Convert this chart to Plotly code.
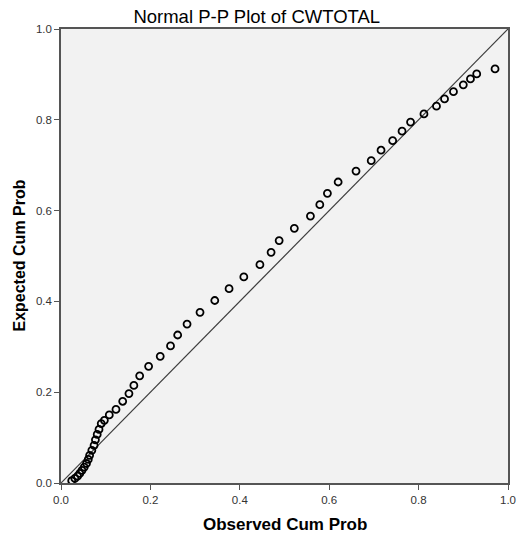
import plotly.graph_objects as go

observed = [0.024, 0.031, 0.037, 0.042, 0.047, 0.052, 0.057, 0.061, 0.064, 0.069,
            0.074, 0.077, 0.081, 0.085, 0.090, 0.097, 0.108, 0.123, 0.138, 0.152,
            0.163, 0.176, 0.196, 0.222, 0.245, 0.261, 0.282, 0.311, 0.344, 0.376,
            0.409, 0.445, 0.470, 0.488, 0.522, 0.558, 0.579, 0.596, 0.620, 0.660,
            0.694, 0.716, 0.742, 0.763, 0.782, 0.812, 0.840, 0.858, 0.878, 0.900,
            0.916, 0.930, 0.971]
expected = [0.005, 0.010, 0.015, 0.021, 0.028, 0.035, 0.043, 0.052, 0.061, 0.072,
            0.083, 0.095, 0.107, 0.118, 0.131, 0.138, 0.150, 0.162, 0.180, 0.197,
            0.215, 0.236, 0.257, 0.279, 0.302, 0.326, 0.350, 0.376, 0.402, 0.428,
            0.454, 0.481, 0.508, 0.534, 0.561, 0.588, 0.613, 0.638, 0.663, 0.687,
            0.710, 0.733, 0.754, 0.775, 0.795, 0.813, 0.830, 0.846, 0.862, 0.877,
            0.890, 0.901, 0.912]
ref_line = [0.0, 1.0]
tick_vals = [0.0, 0.2, 0.4, 0.6, 0.8, 1.0]
tick_text = ["0.0", "0.2", "0.4", "0.6", "0.8", "1.0"]

font_family = "Arial, Liberation Sans, sans-serif"

fig = go.Figure()
fig.add_trace(go.Scatter(x=ref_line, y=ref_line, mode="lines",
                         line=dict(color="#3c3c3c", width=1.2),
                         hoverinfo="skip", showlegend=False))
fig.add_trace(go.Scatter(x=observed, y=expected, mode="markers",
                         marker=dict(symbol="circle-open", size=7, color="black",
                                     line=dict(color="black", width=1.8)),
                         showlegend=False))

axis_common = dict(range=[0, 1], tickvals=tick_vals, ticktext=tick_text,
                   showgrid=False, zeroline=False, showline=True,
                   linecolor="#555555", linewidth=1.5, mirror=True,
                   ticks="outside", ticklen=5, tickcolor="#555555", tickwidth=1,
                   tickfont=dict(family=font_family, size=11.5, color="#333333"))

fig.update_layout(
    width=524, height=537,
    margin=dict(l=61, r=8, t=29, b=54),
    paper_bgcolor="white", plot_bgcolor="#F2F2F2",
    title=dict(text="Normal P-P Plot of CWTOTAL", x=0.49, xanchor="center",
               y=0.970, yanchor="middle",
               font=dict(family=font_family, size=18.5, color="black")),
    xaxis=dict(**axis_common),
    yaxis=dict(**axis_common),
    annotations=[
        dict(text="<b>Observed Cum Prob</b>", xref="paper", yref="paper",
             x=0.5, y=-0.091, xanchor="center", yanchor="middle", showarrow=False,
             font=dict(family=font_family, size=17, color="black")),
        dict(text="<b>Expected Cum Prob</b>", xref="paper", yref="paper",
             x=-0.095, y=0.5, xanchor="center", yanchor="middle", showarrow=False,
             textangle=-90,
             font=dict(family=font_family, size=16, color="black")),
    ],
)

fig.write_html("out.html")
